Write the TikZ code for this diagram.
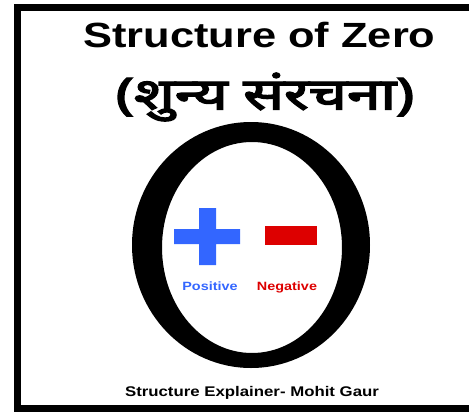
\documentclass[tikz,border=0pt]{standalone}
\usepackage{fontspec}
\setmainfont{Liberation Sans}
\newfontfamily\hindifont[Script=Devanagari,FakeBold=3]{Noto Sans}
\usepackage{tikz}
\definecolor{plusblue}{RGB}{51,102,255}
\definecolor{minusred}{RGB}{221,0,0}

\begin{document}
\begin{tikzpicture}[x=1pt,y=-1pt,
  label text/.style={font=\bfseries\fontsize{12}{12}\selectfont,xscale=1.2,anchor=base,inner sep=0pt}]
  \useasboundingbox (0,0) rectangle (472,416);
  % frame, open on the right
  \draw[line width=7pt] (469,7.5) -- (17.5,7.5) -- (17.5,408.5) -- (469,408.5);
  % headings
  \node[font=\bfseries\fontsize{35}{35}\selectfont,xscale=1.24,anchor=base,inner sep=0pt] (title) at (259.5,47) {Structure of Zero};
  \node[font=\hindifont\fontsize{44}{44}\selectfont,xscale=1.37,inner sep=0pt] (hindi) at (265,97) {(शुन्य संरचना)};
  % the zero
  \fill[even odd rule] (251,245) ellipse [x radius=119pt, y radius=123pt]
                       (252,247.5) ellipse [x radius=90pt, y radius=105.5pt];
  % plus and minus
  \fill[plusblue] (174,229) rectangle (240,244) (199,208) rectangle (216,265);
  \fill[minusred] (265,226) rectangle (317,245);
  \node[label text,text=plusblue] (pos) at (210,290) {Positive};
  \node[label text,text=minusred] (neg) at (287,290) {Negative};
  % footer
  \node[font=\bfseries\fontsize{14}{14}\selectfont,xscale=1.2,anchor=base,inner sep=0pt] (credit) at (252,396) {Structure Explainer- Mohit Gaur};
\end{tikzpicture}
\end{document}
